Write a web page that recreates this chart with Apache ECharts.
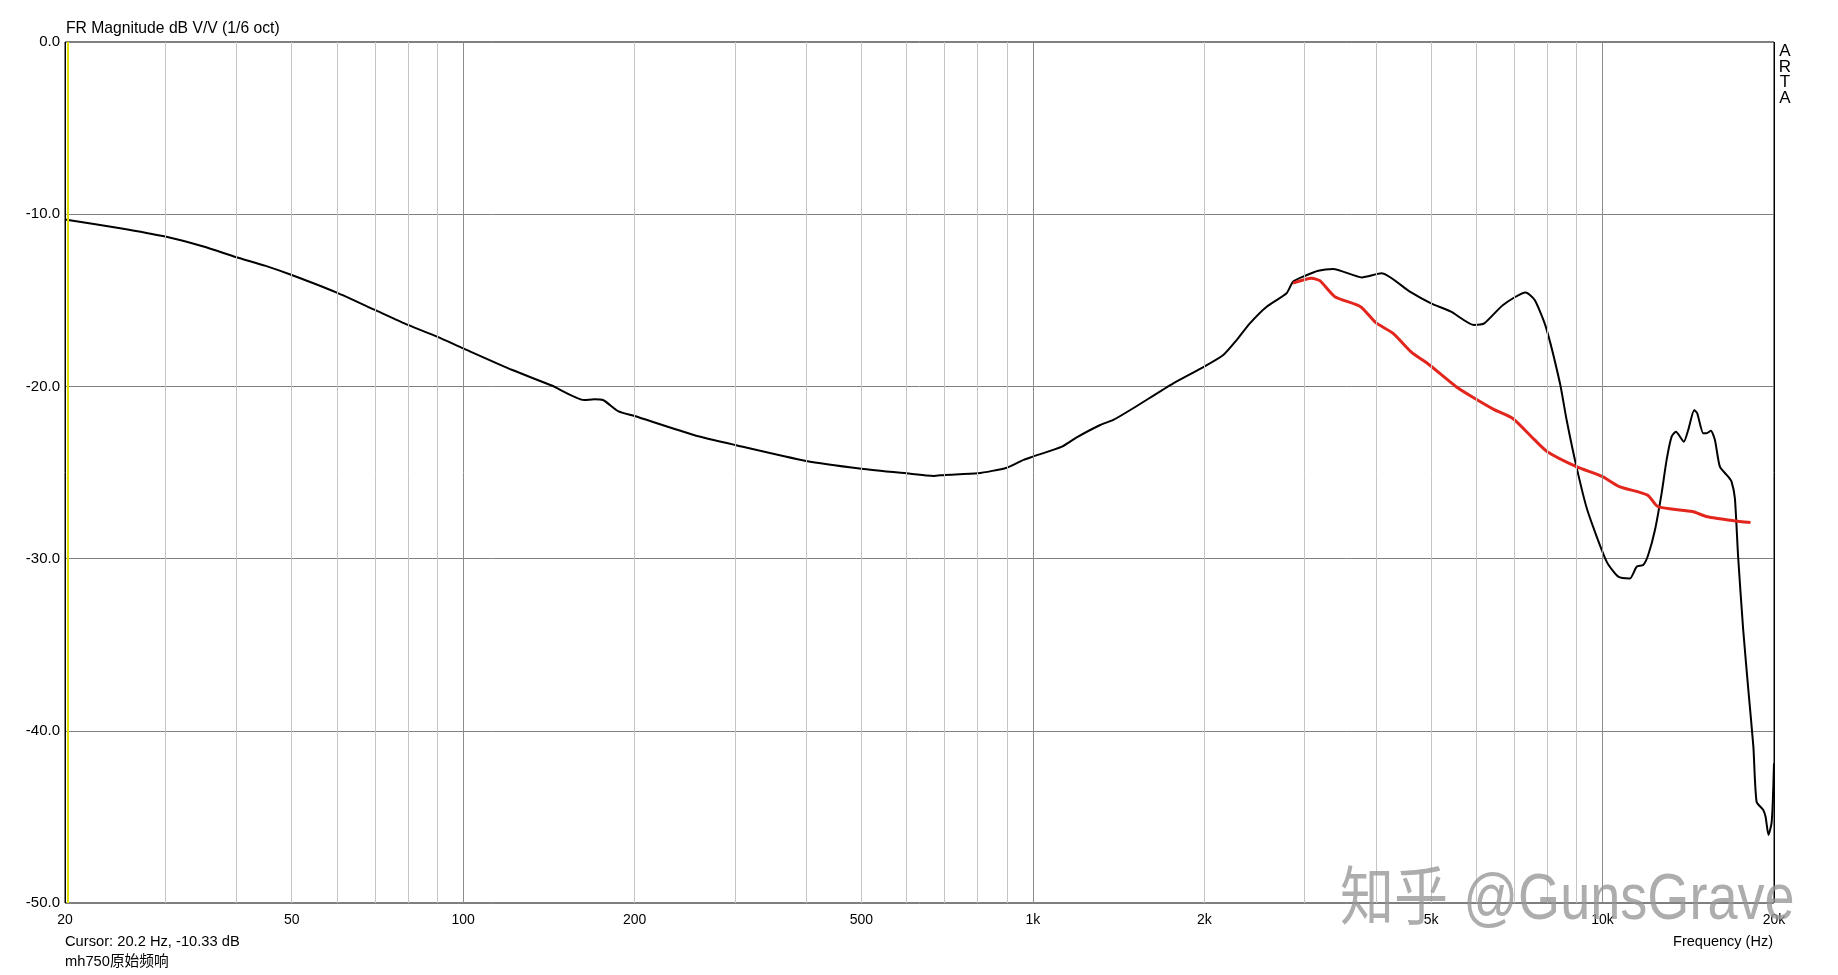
<!DOCTYPE html>
<html>
<head>
<meta charset="utf-8">
<title>mh750 FR</title>
<script src="https://cdn.jsdelivr.net/npm/echarts@6/dist/echarts.min.js"></script>
<style>
  html, body { margin: 0; padding: 0; background: #fff; }
  #chart { width: 1838px; height: 975px; }
</style>
</head>
<body>
<div id="chart"></div>
<script>
  // 黑线：mh750 原始频响 (Hz / dB)
  var rawFreq = [20, 25, 30, 35, 40, 45, 50, 60, 70, 80, 90, 100, 122, 143, 163, 170, 176, 187, 200, 254,
    300, 400, 500, 600, 670, 700, 800, 900, 963, 1000, 1125, 1194, 1313, 1384, 1500, 1764, 2000, 2159, 2279, 2404,
    2573, 2789, 2862, 3000, 3170, 3366, 3780, 4095, 4590, 5000, 5420, 5940, 6200, 6690, 7330, 7603, 7950, 8420,
    8650, 9000, 9404,
    10168, 10658, 11172, 11480, 11786, 12028, 12361, 12698, 12958, 13222, 13454, 13894, 14140, 14488, 14664,
    15024, 15232, 15498, 15752, 16070, 16620, 16846, 17076, 17300, 17660, 18030, 18400, 18640, 19150, 19330,
    19560, 19800, 19900, 20000];
  var rawDb = [-10.31, -10.81, -11.30, -11.88, -12.50, -13.00, -13.53, -14.55, -15.56, -16.43, -17.11, -17.79, -19.05, -19.95, -20.79, -20.75, -20.79, -21.43, -21.72, -22.82,
    -23.40, -24.33, -24.78, -25.05, -25.20, -25.14, -25.05, -24.72, -24.27, -24.08, -23.50, -22.96, -22.24, -21.95, -21.27, -19.82, -18.85, -18.18, -17.31, -16.34,
    -15.37, -14.59, -13.92, -13.59, -13.28, -13.18, -13.67, -13.43, -14.50, -15.18, -15.66, -16.43, -16.34, -15.27, -14.54, -14.98, -16.53, -19.82,
    -21.95, -24.66, -27.18,
    -30.18, -31.05, -31.15, -30.47, -30.37, -29.79, -28.34, -26.21, -24.27, -22.92, -22.63, -23.21, -22.53, -21.37, -21.56,
    -22.72, -22.72, -22.57, -23.11, -24.66, -25.24, -25.53, -26.50, -29.89, -34.15, -37.63, -40.92, -44.12, -44.60, -44.99,
    -46.05, -45.37, -44.21, -41.89];

  // 红线
  var redFreq = [2862, 3085, 3190, 3390, 3760, 4000, 4290, 4613, 4970, 5534, 5900, 6441, 6960, 7603, 8000, 9000,
    10000, 10700, 12000, 12510, 14380, 15280, 16980, 18190];
  var redDb = [-14.00, -13.72, -13.86, -14.79, -15.37, -16.30, -16.92, -17.99, -18.76, -20.02, -20.60, -21.33, -21.86, -23.11, -23.79, -24.66,
    -25.24, -25.82, -26.31, -26.98, -27.27, -27.57, -27.80, -27.91];

  // 网格和刻度
  var minorGridFreq = [30, 40, 50, 60, 70, 80, 90, 200, 300, 400, 500, 600, 700, 800, 900,
    2000, 3000, 4000, 5000, 6000, 7000, 8000, 9000];
  var majorGridFreq = [100, 1000, 10000];
  var edgeFreq = [20, 20000];
  var xTickFreq = [20, 50, 100, 200, 500, 1000, 2000, 5000, 10000, 20000];
  var xTickLabel = ['20', '50', '100', '200', '500', '1k', '2k', '5k', '10k', '20k'];
  var cursorFreq = 20.2;

  var FONT = '"Liberation Sans", Arial, sans-serif';
  var CJK_FONT = '"Liberation Sans", "Noto Sans CJK SC", sans-serif';

  function zip(xs, ys) {
    return xs.map(function (x, i) { return [x, ys[i]]; });
  }

  // 竖向网格线 + 横轴刻度文字 (用 markLine 画在对数坐标上)
  var gridLines = [];
  function addLine(f, color) {
    var idx = xTickFreq.indexOf(f);
    var item = {xAxis: f, lineStyle: {color: color, width: 1, type: 'solid'}};
    if (idx >= 0) {
      item.label = {show: true, formatter: xTickLabel[idx]};
    } else {
      item.label = {show: false};
    }
    gridLines.push(item);
  }
  minorGridFreq.forEach(function (f) { addLine(f, '#c4c4c4'); });
  majorGridFreq.forEach(function (f) { addLine(f, '#8c8c8c'); });
  edgeFreq.forEach(function (f) { addLine(f, '#000'); });
  gridLines.push({xAxis: cursorFreq, lineStyle: {color: '#e0e000', width: 2, type: 'solid'}, label: {show: false}});

  var myChart = echarts.init(document.getElementById('chart'));
  myChart.setOption({
    animation: false,
    backgroundColor: '#fff',
    textStyle: {fontFamily: FONT},
    grid: {
      left: 65, right: 64, top: 42, bottom: 72,
      outerBoundsMode: 'none',
      show: true, borderColor: '#000', borderWidth: 1, backgroundColor: '#fff'
    },
    xAxis: {
      type: 'log', logBase: 10, min: 20, max: 20000,
      axisLine: {show: false}, axisTick: {show: false},
      axisLabel: {show: false}, splitLine: {show: false}, minorSplitLine: {show: false}
    },
    yAxis: {
      type: 'value', min: -50, max: 0, interval: 10,
      axisLine: {show: false}, axisTick: {show: false},
      axisLabel: {
        color: '#000', fontSize: 15, fontFamily: FONT, margin: 5,
        formatter: function (v) { return v.toFixed(1); }
      },
      splitLine: {show: true, showMinLine: false, showMaxLine: false, lineStyle: {color: '#808080', width: 1}}
    },
    graphic: [
      {type: 'text', left: 66, top: 21, style: {text: 'FR Magnitude dB V/V (1/6 oct)', font: '15.7px ' + FONT, fill: '#000'}},
      {type: 'text', x: 1785, y: 44, style: {text: 'A\nR\nT\nA', font: '17px ' + FONT, lineHeight: 15.5, align: 'center', verticalAlign: 'top', fill: '#000'}},
      {type: 'text', x: 65, y: 942, style: {text: 'Cursor: 20.2 Hz, -10.33 dB', font: '14.7px ' + FONT, verticalAlign: 'middle', fill: '#000'}},
      {type: 'text', x: 65, y: 962, style: {text: 'mh750原始频响', font: '14.7px ' + CJK_FONT, verticalAlign: 'middle', fill: '#000'}},
      {type: 'text', x: 1773, y: 942, style: {text: 'Frequency (Hz)', font: '14.5px ' + FONT, align: 'right', verticalAlign: 'middle', fill: '#000'}},
      // 水印
      {type: 'text', x: 1340, y: 901, scaleX: 0.845, z: 100,
        style: {text: '知乎 @GunsGrave', font: '64px ' + CJK_FONT,
          align: 'left', verticalAlign: 'middle', fill: 'rgba(150,150,150,0.78)',
          shadowColor: 'rgba(200,200,200,0.6)', shadowOffsetX: 2, shadowOffsetY: 2, shadowBlur: 0}}
    ],
    series: [
      {
        name: 'grid', type: 'line', data: [], z: 1, silent: true,
        markLine: {
          silent: true, symbol: ['none', 'none'], animation: false,
          label: {position: 'start', distance: 10, color: '#000', fontSize: 14, fontFamily: FONT},
          emphasis: {disabled: true},
          data: gridLines
        }
      },
      {
        name: 'mh750原始频响', type: 'line', z: 3, showSymbol: false, smooth: 0.2,
        lineStyle: {color: '#000', width: 2}, itemStyle: {color: '#000'},
        data: zip(rawFreq, rawDb)
      },
      {
        name: 'red', type: 'line', z: 4, showSymbol: false, smooth: 0.2,
        lineStyle: {color: '#e3261d', width: 3}, itemStyle: {color: '#e3261d'},
        data: zip(redFreq, redDb)
      }
    ]
  });
</script>
</body>
</html>
